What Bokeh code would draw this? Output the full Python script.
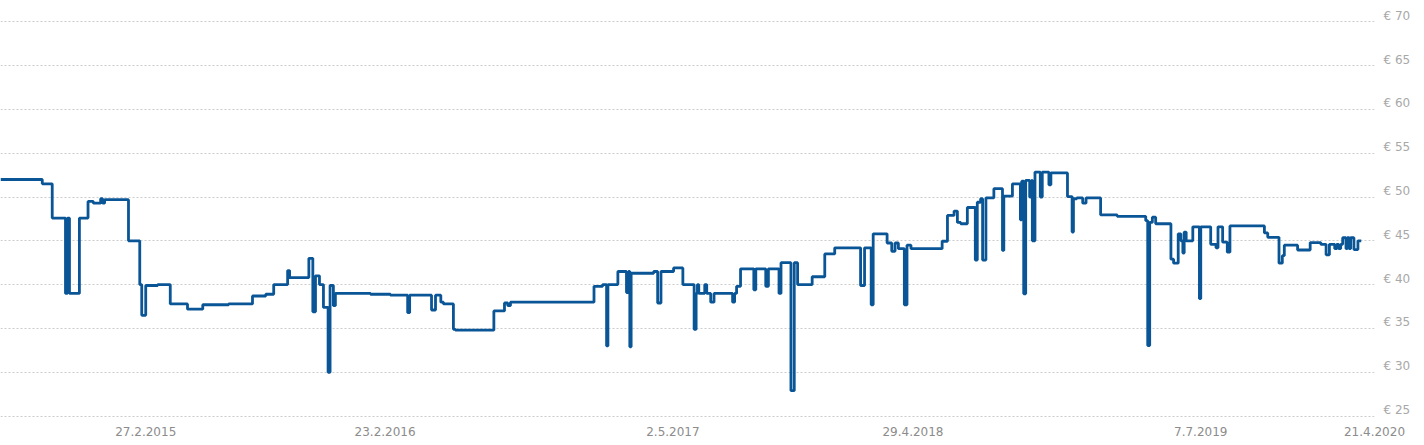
import pandas as pd
from bokeh.plotting import figure
from bokeh.models import Range1d, FixedTicker
from bokeh.embed import file_html
from bokeh.resources import INLINE

dates = [
    "2014-07-23", "2014-09-24", "2014-10-09", "2014-10-29", "2014-11-01", "2014-11-04",
    "2014-11-19", "2014-12-02", "2014-12-10", "2014-12-21", "2014-12-24", "2014-12-27",
    "2015-02-01", "2015-02-18", "2015-02-21", "2015-02-27", "2015-03-17", "2015-04-05",
    "2015-05-01", "2015-05-24", "2015-07-02", "2015-08-07", "2015-08-27", "2015-09-08",
    "2015-09-29", "2015-10-02", "2015-10-31", "2015-11-06", "2015-11-10", "2015-11-16",
    "2015-11-22", "2015-11-29", "2015-12-02", "2015-12-07", "2015-12-10", "2016-02-01",
    "2016-03-02", "2016-03-28", "2016-03-31", "2016-05-03", "2016-05-09", "2016-05-17",
    "2016-05-21", "2016-06-05", "2016-06-08", "2016-08-05", "2016-08-21", "2016-08-26",
    "2016-08-30", "2017-01-03", "2017-01-16", "2017-01-22", "2017-01-24", "2017-02-08",
    "2017-02-21", "2017-02-24", "2017-02-26", "2017-02-28", "2017-04-03", "2017-04-09",
    "2017-04-14", "2017-05-03", "2017-05-17", "2017-06-03", "2017-06-06", "2017-06-08",
    "2017-06-10", "2017-06-19", "2017-06-22", "2017-06-28", "2017-07-03", "2017-07-31",
    "2017-08-03", "2017-08-06", "2017-08-12", "2017-09-01", "2017-09-04", "2017-09-19",
    "2017-09-23", "2017-10-09", "2017-10-12", "2017-10-27", "2017-11-01", "2017-11-06",
    "2017-11-28", "2017-12-17", "2018-01-01", "2018-02-09", "2018-02-15", "2018-02-25",
    "2018-02-28", "2018-03-21", "2018-03-28", "2018-04-02", "2018-04-07", "2018-04-16",
    "2018-04-20", "2018-04-26", "2018-06-12", "2018-06-20", "2018-06-30", "2018-07-05",
    "2018-07-10", "2018-07-20", "2018-08-01", "2018-08-04", "2018-08-09", "2018-08-12",
    "2018-08-17", "2018-08-29", "2018-09-11", "2018-09-13", "2018-09-26", "2018-10-08",
    "2018-10-10", "2018-10-13", "2018-10-16", "2018-10-22", "2018-10-25", "2018-10-26",
    "2018-10-30", "2018-11-07", "2018-11-10", "2018-11-20", "2018-11-23", "2018-12-18",
    "2018-12-25", "2018-12-27", "2019-01-01", "2019-01-10", "2019-01-15", "2019-02-06",
    "2019-03-03", "2019-04-15", "2019-04-18", "2019-04-21", "2019-04-25", "2019-04-30",
    "2019-05-23", "2019-05-27", "2019-06-03", "2019-06-07", "2019-06-10", "2019-06-12",
    "2019-06-15", "2019-06-25", "2019-07-05", "2019-07-07", "2019-07-22", "2019-07-30",
    "2019-08-02", "2019-08-09", "2019-08-16", "2019-08-20", "2019-10-11", "2019-10-16",
    "2019-11-02", "2019-11-07", "2019-11-10", "2019-11-30", "2019-12-19", "2020-01-04",
    "2020-01-12", "2020-01-17", "2020-01-25", "2020-01-28", "2020-01-31", "2020-02-03",
    "2020-02-06", "2020-02-11", "2020-02-13", "2020-02-16", "2020-02-18", "2020-02-23",
    "2020-02-29", "2020-03-05",
]
prices = [
    52.0, 51.5, 47.6, 39.0, 47.6, 39.0,
    47.6, 49.5, 49.3, 49.8, 49.3, 49.7,
    45.0, 40.0, 36.5, 39.9, 40.0, 37.8,
    37.2, 37.7, 37.8, 38.7, 38.9, 40.0,
    41.6, 40.8, 43.0, 36.9, 41.0, 40.0,
    37.4, 30.0, 39.9, 37.6, 39.0, 38.9,
    38.8, 36.8, 38.8, 37.1, 38.8, 38.0,
    37.8, 34.9, 34.8, 37.0, 37.9, 37.6,
    38.0, 39.8, 40.0, 33.0, 40.0, 41.5,
    39.1, 41.5, 32.9, 41.3, 41.5, 37.9,
    41.5, 41.9, 40.0, 34.9, 39.0, 40.0,
    39.0, 40.0, 39.0, 38.0, 39.0, 38.0,
    39.0, 39.8, 41.8, 39.4, 41.8, 39.8,
    41.8, 39.0, 42.5, 27.9, 42.5, 40.0,
    40.9, 43.5, 44.2, 39.9, 44.2, 37.7,
    45.8, 44.75, 43.8, 44.75, 44.1, 37.7,
    44.5, 44.1, 44.95, 47.9, 48.4, 47.1,
    46.95, 48.8, 42.8, 49.4, 49.8, 42.8,
    49.9, 50.95, 43.9, 50.1, 51.5, 47.4,
    51.8, 38.95, 51.9, 50.0, 51.9, 45.0,
    52.85, 50.0, 52.85, 51.4, 52.75, 50.05,
    46.0, 49.8, 49.9, 49.3, 49.9, 47.95,
    47.8, 47.3, 33.05, 47.1, 47.7, 46.95,
    42.9, 42.45, 45.8, 45.0, 43.6, 46.0,
    45.0, 46.6, 38.4, 46.6, 44.6, 44.2,
    46.6, 44.85, 43.7, 46.7, 45.9, 45.4,
    42.45, 43.3, 44.5, 43.95, 44.8, 44.6,
    43.4, 44.6, 44.1, 44.6, 44.1, 44.6,
    45.35, 44.1, 45.35, 44.1, 45.35, 44.0,
    45.0, 45.0,
]
x_tick_dates = ["2015-02-27", "2016-02-23", "2017-05-02", "2018-04-29", "2019-07-07", "2020-03-25"]
x_tick_labels = ["27.2.2015", "23.2.2016", "2.5.2017", "29.4.2018", "7.7.2019", "21.4.2020"]
y_ticks = [25, 30, 35, 40, 45, 50, 55, 60, 65, 70]
y_tick_labels = ["€ 25", "€ 30", "€ 35", "€ 40", "€ 45", "€ 50", "€ 55", "€ 60", "€ 65", "€ 70"]


def ms(s):
    return float(pd.Timestamp(s).value // 10**6)


xs = [ms(d) for d in dates]
tick_ms = [ms(d) for d in x_tick_dates]

p = figure(
    width=1424, height=445, output_backend="svg", toolbar_location=None,
    x_range=Range1d(ms("2014-07-23"), ms("2020-03-25")),
    y_range=Range1d(24.49, 72.43),
    y_axis_location="right",
    min_border_left=0, min_border_right=50, min_border_top=0, min_border_bottom=25,
)
p.margin = (0, 0, 0, 0)
p.outline_line_color = None
p.background_fill_color = "white"
p.border_fill_color = "white"

p.step(xs, prices, mode="after", line_color="#0a5596", line_width=2.8)

p.xgrid.visible = False
p.ygrid.ticker = FixedTicker(ticks=y_ticks)
p.ygrid.grid_line_color = "#cccccc"
p.ygrid.grid_line_dash = "2 2"
p.ygrid.grid_line_width = 1

xa = p.xaxis[0]
xa.ticker = FixedTicker(ticks=tick_ms)
xa.major_label_overrides = {t: lab for t, lab in zip(tick_ms, x_tick_labels)}
xa.axis_line_color = None
xa.major_tick_line_color = None
xa.minor_tick_line_color = None
xa.major_tick_out = 0
xa.major_label_standoff = 6
xa.major_label_text_font = "DejaVu Sans"
xa.major_label_text_font_size = "12px"
xa.major_label_text_color = "#8c8c8c"

# labels sit about 6 px above their gridlines
label_shift = 0.68
y_label_pos = [v + label_shift for v in y_ticks]
ya = p.yaxis[0]
ya.ticker = FixedTicker(ticks=y_label_pos)
ya.major_label_overrides = {t: lab for t, lab in zip(y_label_pos, y_tick_labels)}
ya.axis_line_color = None
ya.major_tick_line_color = None
ya.minor_tick_line_color = None
ya.major_tick_out = 0
ya.major_label_standoff = 9
ya.major_label_text_font = "DejaVu Sans"
ya.major_label_text_font_size = "12px"
ya.major_label_text_color = "#a8a8a8"

open("out.html", "w").write(file_html(p, INLINE))
